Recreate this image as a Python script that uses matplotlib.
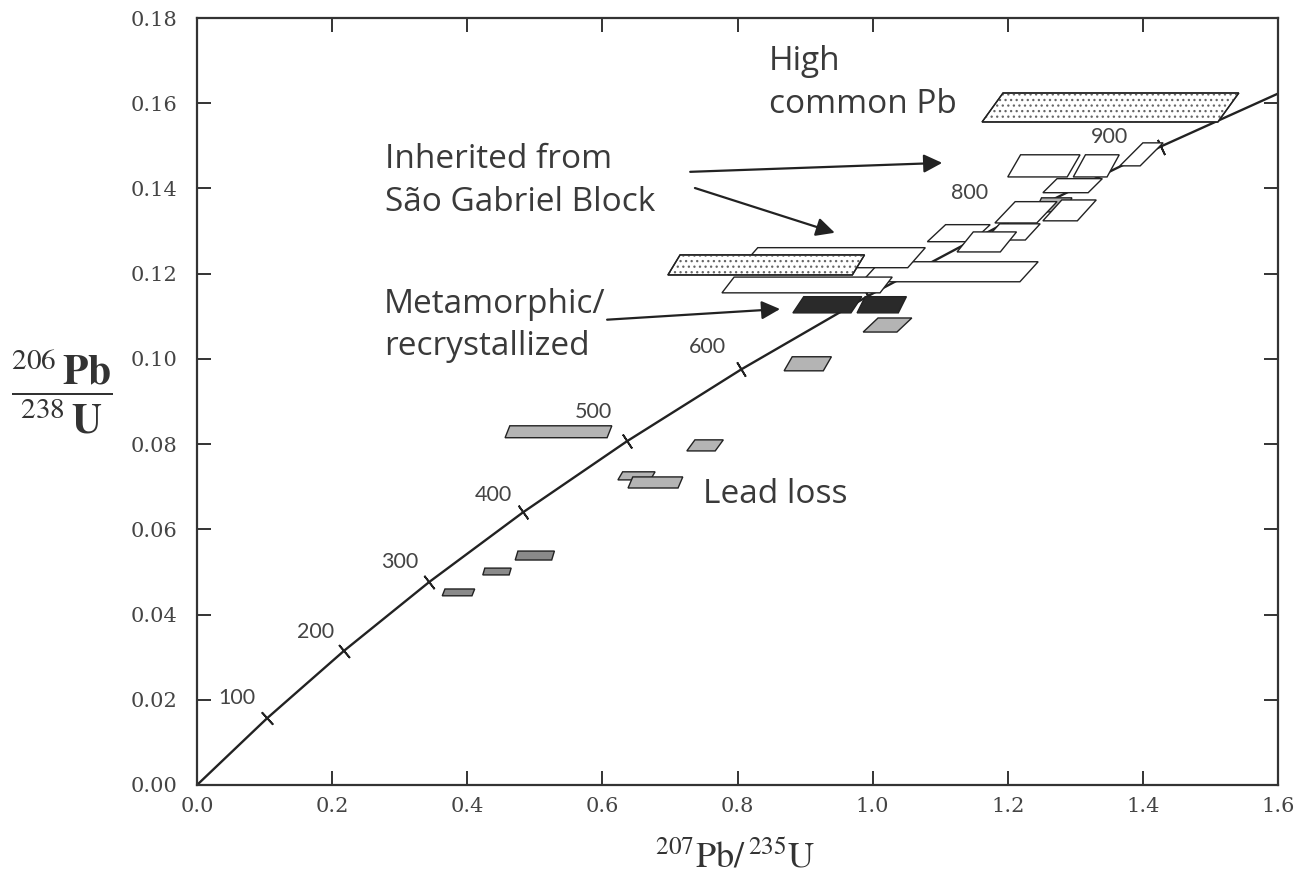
import numpy as np
import matplotlib
matplotlib.use('Agg')
import matplotlib.pyplot as plt
from matplotlib.patches import Polygon

plt.rcParams['mathtext.fontset'] = 'stix'
plt.rcParams['hatch.linewidth'] = 0.9

# concordia, 100 Ma steps
conc_age = [0, 100, 200, 300, 400, 500, 600, 700, 800, 900, 1000]
conc_x = [0.0, 0.1035, 0.2177, 0.3437, 0.4828, 0.6362, 0.8056, 0.9926, 1.1988, 1.4264, 1.6774]
conc_y = [0.0, 0.01563, 0.03151, 0.04764, 0.06402, 0.08065, 0.09754, 0.11470, 0.13213, 0.14983, 0.16780]

age_labels = ['100', '200', '300', '400', '500', '600', '800', '900']
age_label_x = [0.059, 0.175, 0.300, 0.438, 0.586, 0.755, 1.144, 1.351]
age_label_y = [0.0204, 0.0359, 0.0523, 0.0681, 0.0876, 0.1028, 0.1390, 0.1521]

# error boxes: bottom edge x0..x1 at y0, top edge shifted by dx at y1
box_kind = ['gray', 'white', 'white', 'white', 'white', 'white', 'white', 'white', 'white',
            'white', 'stipple', 'white', 'white', 'stipple', 'white', 'black', 'black',
            'gray', 'gray', 'gray', 'gray', 'gray', 'gray', 'dark', 'dark', 'dark']
box_x0 = [1.240, 1.166, 1.081, 1.125, 1.181, 1.252, 1.252, 1.200, 1.297, 1.366, 1.162,
          0.984, 0.804, 0.697, 0.777, 0.882, 0.977, 0.986, 0.869, 0.456, 0.725, 0.623,
          0.638, 0.363, 0.423, 0.471]
box_x1 = [1.285, 1.226, 1.147, 1.189, 1.243, 1.303, 1.319, 1.288, 1.347, 1.396, 1.511,
          1.218, 1.052, 0.970, 1.011, 0.968, 1.038, 1.036, 0.927, 0.607, 0.767, 0.671,
          0.712, 0.407, 0.462, 0.525]
box_y0 = [0.1345, 0.1279, 0.1275, 0.1251, 0.1319, 0.1324, 0.1390, 0.1427, 0.1427, 0.1453,
          0.1556, 0.1181, 0.1214, 0.1197, 0.1155, 0.1108, 0.1108, 0.1063, 0.0972, 0.0815,
          0.0784, 0.0716, 0.0697, 0.0444, 0.0493, 0.0528]
box_y1 = [0.1378, 0.1317, 0.1315, 0.1298, 0.1369, 0.1373, 0.1423, 0.1479, 0.1479, 0.1507,
          0.1624, 0.1228, 0.1261, 0.1244, 0.1192, 0.1146, 0.1146, 0.1096, 0.1005, 0.0843,
          0.0810, 0.0735, 0.0723, 0.0460, 0.0509, 0.0549]
box_dx = [0.010, 0.022, 0.027, 0.024, 0.030, 0.028, 0.021, 0.019, 0.018, 0.034, 0.031,
          0.027, 0.026, 0.018, 0.018, 0.016, 0.012, 0.022, 0.012, 0.007, 0.012, 0.007,
          0.007, 0.004, 0.003, 0.004]

face = {'white': 'white', 'stipple': 'white', 'black': '#2a2a2a', 'gray': '#b4b4b4', 'dark': '#8a8a8a'}

fig = plt.figure(figsize=(13.1, 8.9), dpi=100)
ax = fig.add_axes([197 / 1310, 1 - 785 / 890, 1081 / 1310, 767 / 890])
ax.set_xlim(0, 1.6)
ax.set_ylim(0, 0.18)

ax.plot(conc_x, conc_y, color='#222222', lw=1.7, zorder=2)

# age ticks across the concordia
trans = ax.transData
pts = trans.transform(np.column_stack([conc_x, conc_y]))
for i in range(1, len(conc_age) - 1):
    d = pts[i + 1] - pts[i - 1]
    ang = np.degrees(np.arctan2(d[1], d[0]))
    ax.plot(conc_x[i], conc_y[i], marker=(2, 2, ang), ms=12, mew=1.3,
            color='#222222', zorder=2)

for lab, lx, ly in zip(age_labels, age_label_x, age_label_y):
    ax.text(lx, ly, lab, fontsize=15.5, family='Lato', color='#444444',
            ha='center', va='center', zorder=1)

for k, x0, x1, y0, y1, dx in zip(box_kind, box_x0, box_x1, box_y0, box_y1, box_dx):
    xy = [(x0, y0), (x1, y0), (x1 + dx, y1), (x0 + dx, y1)]
    ax.add_patch(Polygon(xy, closed=True, facecolor=face[k], edgecolor='#222222',
                         lw=1.0, zorder=3))
    if k == 'stipple':
        ax.add_patch(Polygon(xy, closed=True, fill=False, hatch='...', edgecolor='#666666',
                             lw=0, zorder=3))
        ax.add_patch(Polygon(xy, closed=True, fill=False, edgecolor='#222222',
                             lw=1.0, zorder=3))

# annotations
tkw = dict(fontsize=24, family='Open Sans', color='#3a3a3a', ha='left', va='center')
ax.text(0.846, 0.1699, 'High', **tkw)
ax.text(0.846, 0.1596, 'common Pb', **tkw)
ax.text(0.278, 0.1467, 'Inherited from', **tkw)
ax.text(0.278, 0.1366, 'São Gabriel Block', **tkw)
ax.text(0.277, 0.1127, 'Metamorphic/', **tkw)
ax.text(0.277, 0.1028, 'recrystallized', **tkw)
ax.text(0.749, 0.0681, 'Lead loss', **tkw)

akw = dict(arrowstyle='-|>', mutation_scale=28, lw=1.6, color='#222222', shrinkA=0, shrinkB=0)
ax.annotate('', xy=(1.103, 0.1460), xytext=(0.730, 0.1439), arrowprops=akw)
ax.annotate('', xy=(0.944, 0.1296), xytext=(0.737, 0.1401), arrowprops=akw)
ax.annotate('', xy=(0.863, 0.1117), xytext=(0.607, 0.1092), arrowprops=akw)

ax.set_xticks(np.arange(0, 1.61, 0.2))
ax.set_yticks(np.arange(0, 0.181, 0.02))
ax.set_xticklabels(['%.1f' % v for v in np.arange(0, 1.61, 0.2)])
ax.set_yticklabels(['%.2f' % v for v in np.arange(0, 0.181, 0.02)])
ax.tick_params(direction='in', length=10, width=1.4, color='#333333', top=True, right=True,
               labelsize=15, labelcolor='#444444')
ax.tick_params(axis='y', pad=14)
ax.tick_params(axis='x', pad=9)
for lab in ax.get_xticklabels() + ax.get_yticklabels():
    lab.set_family('DejaVu Serif')
for s in ax.spines.values():
    s.set_linewidth(1.6)
    s.set_color('#333333')

fig.text(62 / 1310, 1 - 392 / 890, r'$\dfrac{^{206}\,\mathbf{Pb}}{^{238}\,\mathbf{U}}$',
         fontsize=30, ha='center', va='center', color='#333333')
fig.text(735 / 1310, 1 - 857 / 890, r'$^{207}\mathrm{Pb}/\,^{235}\mathrm{U}$',
         fontsize=26, ha='center', va='center', color='#333333')

plt.savefig('out.png', dpi=100)
